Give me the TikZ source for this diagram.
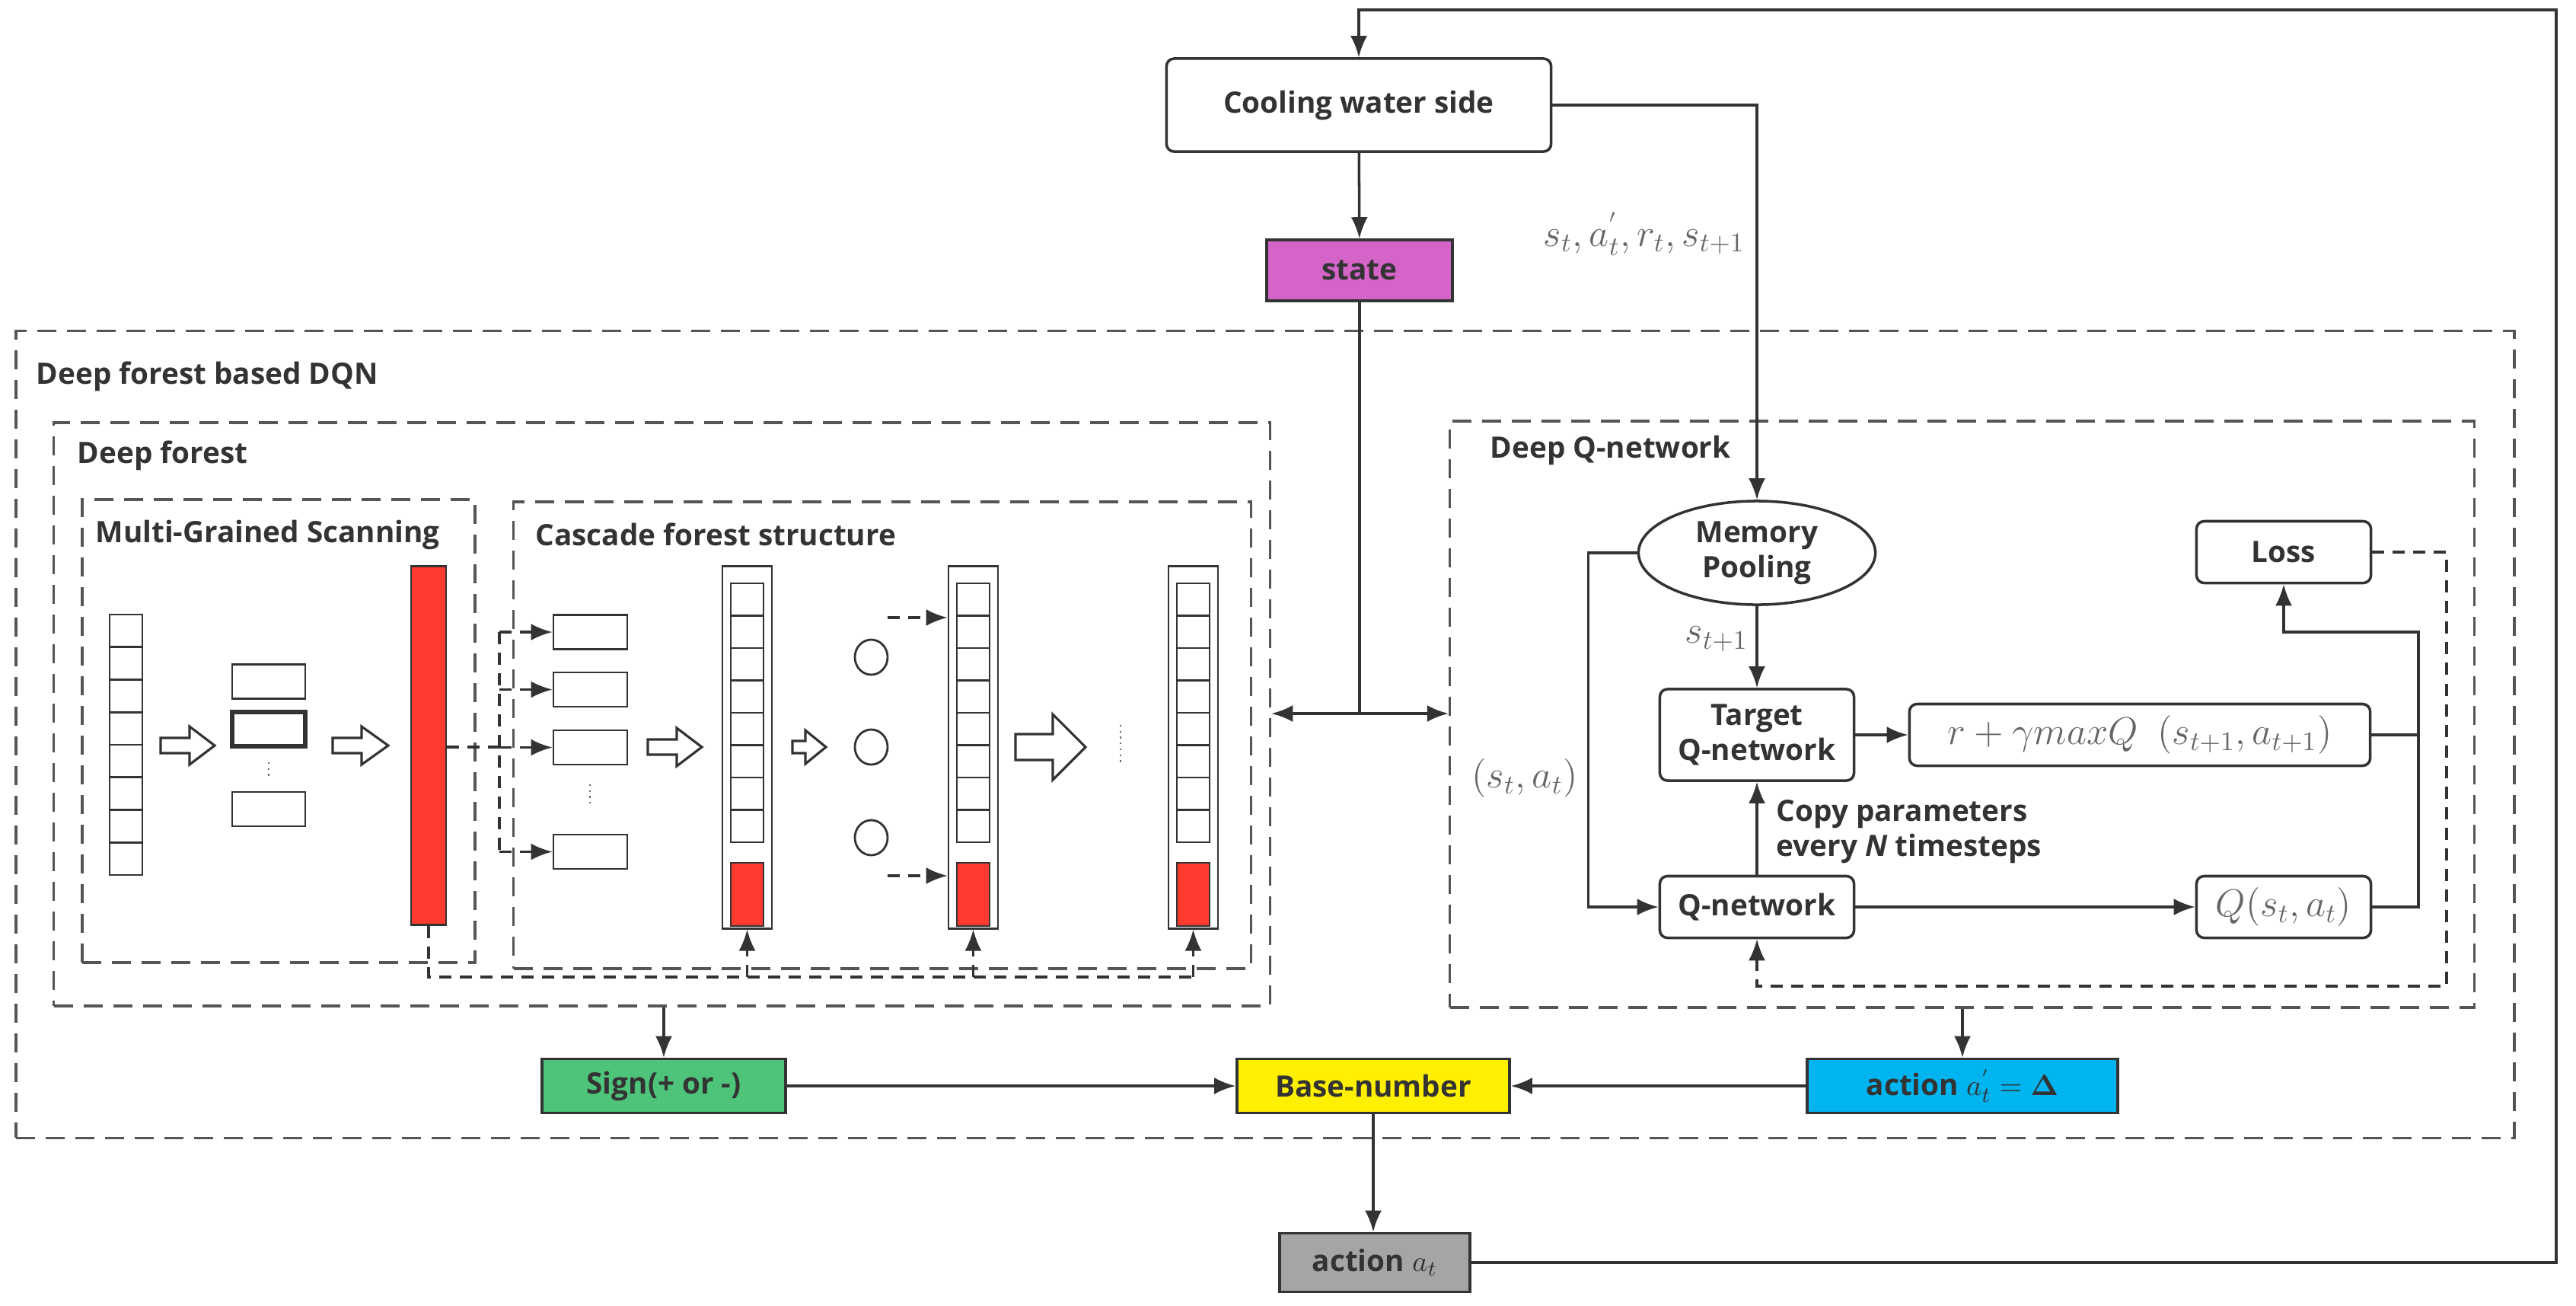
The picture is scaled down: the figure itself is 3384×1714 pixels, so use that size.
\documentclass[tikz,border=0pt]{standalone}
\usepackage[no-math]{fontspec}
\setmainfont{Open Sans}
\usetikzlibrary{arrows.meta,shapes.geometric}
\definecolor{linegray}{HTML}{333333}
\definecolor{dashgray}{HTML}{555555}
\definecolor{mathgray}{HTML}{666666}
\definecolor{statepink}{HTML}{D464C8}
\definecolor{signgreen}{HTML}{4DC47A}
\definecolor{baseyellow}{HTML}{FFEF00}
\definecolor{deltablue}{HTML}{00B4F0}
\definecolor{actgray}{HTML}{A5A5A5}
\definecolor{barred}{HTML}{FF3B2F}
\begin{document}
\begin{tikzpicture}
  [x=0.01cm,y=-0.01cm,font=\bfseries\fontsize{11}{13}\selectfont,
   every node/.style={text=linegray,inner sep=0pt},
   >={Latex[length=2.8mm,width=2.2mm]}]
  \tikzstyle{box} = [draw=linegray,line width=1pt,shape=rectangle,align=center]
  \tikzstyle{rbox} = [box,rounded corners=1mm]
  \tikzstyle{group} = [draw=dashgray,line width=1pt,dash pattern=on 2.5mm off 1.4mm,shape=rectangle]
  \tikzstyle{link} = [draw=linegray,line width=1pt]
  \tikzstyle{dlink} = [draw=linegray,line width=0.9pt,dash pattern=on 1.6mm off 1.1mm]
  \tikzstyle{cell} = [draw=linegray,line width=0.8pt]
  \tikzstyle{hollow} = [draw=linegray,line width=0.9pt,fill=white]
  \tikzstyle{mathlabel} = [text=mathgray,font=\fontsize{14}{16}\selectfont]
  \useasboundingbox (0,0) rectangle (3384,1714);

  \node[group,minimum width=32.8cm,minimum height=10.59cm] (outer) at (1662,964.5) {};
  \node[group,minimum width=15.97cm,minimum height=7.66cm] (df) at (869.5,938) {};
  \node[group,minimum width=5.16cm,minimum height=6.08cm] (mgs) at (366,960) {};
  \node[group,minimum width=9.68cm,minimum height=6.13cm] (cfs) at (1159,965.5) {};
  \node[group,minimum width=13.45cm,minimum height=7.7cm] (dqn) at (2577.5,938) {};
  \node[anchor=west] (outerlbl) at (47,494) {Deep forest based DQN};
  \node[anchor=west] (dflbl) at (101,598) {Deep forest};
  \node[anchor=west] (mgslbl) at (125,702) {Multi-Grained Scanning};
  \node[anchor=west] (cfslbl) at (703,702) {Cascade forest structure};
  \node[anchor=west] (dqnlbl) at (1957,591) {Deep Q-network};

  \node[rbox,minimum width=5.05cm,minimum height=1.22cm] (cool) at (1785,138) {Cooling water side};
  \node[box,fill=statepink,minimum width=2.44cm,minimum height=0.8cm] (state) at (1786,355) {state};
  \node[draw=linegray,line width=1pt,ellipse,align=center,minimum width=3.11cm,minimum height=1.36cm] (mem) at (2308,726) {Memory\\Pooling};
  \node[rbox,minimum width=2.29cm,minimum height=0.81cm] (loss) at (3000,725) {Loss};
  \node[rbox,minimum width=2.55cm,minimum height=1.2cm] (target) at (2308,965) {Target\\Q-network};
  \node[rbox,minimum width=6.05cm,minimum height=0.81cm,mathlabel] (tq) at (2811,965) {$r+\gamma max Q\ \ (s_{t+1},a_{t+1})$};
  \node[rbox,minimum width=2.55cm,minimum height=0.81cm] (qnet) at (2308,1191) {Q-network};
  \node[rbox,minimum width=2.29cm,minimum height=0.81cm,mathlabel] (qval) at (3000,1191) {$Q(s_t,a_t)$};
  \node[box,fill=signgreen,minimum width=3.2cm,minimum height=0.71cm] (sign) at (872,1426) {Sign(+ or -)};
  \node[box,fill=baseyellow,minimum width=3.58cm,minimum height=0.71cm] (base) at (1804,1426) {Base-number};
  \node[box,fill=deltablue,minimum width=4.08cm,minimum height=0.71cm] (delta) at (2578,1426) {action $a_t^{'}=\mathbf{\Delta}$};
  \node[box,fill=actgray,minimum width=2.5cm,minimum height=0.77cm] (act) at (1806,1658) {action $a_t$};

  \node[mathlabel] (obs) at (2160,307) {$s_t,a_t^{'},r_t,s_{t+1}$};
  \node[mathlabel,anchor=east] (next) at (2297,839) {$s_{t+1}$};
  \node[mathlabel] (pair) at (2003,1022) {$(s_t,a_t)$};
  \node[anchor=west,align=left] (copy) at (2333,1092) {Copy parameters\\every \textit{N} timesteps};

  \coordinate (loop) at (3358,13);
  \coordinate (split) at (1786,937);
  \coordinate (rj) at (3177,830);
  \coordinate (fb) at (3214,1295);
  \draw[link,->] (act.east) -| (loop) -| (cool.north);
  \draw[link,->] (cool) -- (state);
  \draw[link] (state) -- (split);
  \draw[link,<->] (df.east |- split) -- (dqn.west |- split);
  \draw[link,->] (cool.east) -| (mem.north);
  \draw[link,->] (mem) -- (target);
  \draw[link,->] (mem.west) -- ++(-64,0) |- (qnet.west);
  \draw[link,->] (qnet) -- (target);
  \draw[link,->] (target) -- (tq);
  \draw[link,->] (qnet) -- (qval);
  \draw[link] (tq.east) -- (tq.east -| rj);
  \draw[link,->] (qval.east) -| (rj) -| (loss.south);
  \draw[dlink,->] (loss.east) -| (fb) -| (qnet.south);
  \draw[link,->] (sign.north |- df.south) -- (sign.north);
  \draw[link,->] (delta.north |- dqn.south) -- (delta.north);
  \draw[link,->] (sign) -- (base);
  \draw[link,->] (delta) -- (base);
  \draw[link,->] (base.south) -- (base.south |- act.north);

  \foreach \i in {0,...,7}
    \draw[cell] (144,{807+\i*42.75}) rectangle ++(43,42.75);
  \node[cell,minimum width=0.96cm,minimum height=0.45cm] (s1) at (353,895) {};
  \node[cell,line width=1.6pt,minimum width=0.96cm,minimum height=0.45cm] (s2) at (353,957.5) {};
  \node[cell,minimum width=0.96cm,minimum height=0.45cm] (s3) at (353,1062.5) {};
  \draw[line width=0.6pt,draw=mathgray,dash pattern=on 0.6pt off 1.6pt] (353,1001) -- (353,1024);
  \node[cell,fill=barred,minimum width=0.46cm,minimum height=4.7cm] (redbar) at (563,979) {};

  \foreach \n/\y in {t1/830,t2/905.5,t3/981.5,t4/1118.5}
    \node[cell,minimum width=0.97cm,minimum height=0.45cm] (\n) at (775.5,\y) {};
  \draw[line width=0.6pt,draw=mathgray,dash pattern=on 0.6pt off 1.6pt] (775,1030) -- (775,1055);
  \coordinate (fan) at (656,981);
  \draw[dlink] (redbar.east |- fan) -- (fan);
  \draw[dlink] (fan |- t1) -- (fan |- t4);
  \foreach \n in {t1,t2,t3,t4}
    \draw[dlink,->] (fan |- \n) -- (\n.west);

  \foreach \n/\cx in {c1/981.5,c2/1278.5,c3/1567.5} {
    \node[cell,minimum width=0.65cm,minimum height=4.75cm] (\n) at (\cx,981.5) {};
    \foreach \i in {0,...,7}
      \draw[cell] (\cx-21.5,{766+\i*42.5}) rectangle ++(43,42.5);
    \draw[cell,fill=barred] (\cx-21.5,1133) rectangle ++(43,83);
  }
  \foreach \y [count=\k] in {863,981,1100}
    \node[cell,ellipse,minimum width=0.43cm,minimum height=0.46cm] (o\k) at (1144.5,\y) {};
  \foreach \y in {811,1150} {
    \coordinate (in\y) at (1166,\y);
    \draw[dlink,->] (in\y) -- (in\y -| c2.west);
  }
  \draw[line width=0.6pt,draw=mathgray,dash pattern=on 0.6pt off 1.6pt] (1472,952) -- (1472,1006);

  \foreach \a/\b/\h/\c/\s/\w in {211/282/249/979/10/25,437/510/475/979/10/25,851/922/889/981/10/25,1041/1085/1058/981/8/22,1334/1426/1383/981/17/43}
    \draw[hollow] (\a,\c-\s) -- (\h,\c-\s) -- (\h,\c-\w) -- (\b,\c) -- (\h,\c+\w) -- (\h,\c+\s) -- (\a,\c+\s) -- cycle;

  \coordinate (back) at (563,1283);
  \draw[dlink] (redbar.south) -- (back) -- (back -| c3.south);
  \foreach \n in {c1,c2,c3}
    \draw[dlink,->] (back -| \n.south) -- (\n.south);


\end{tikzpicture}
\end{document}
